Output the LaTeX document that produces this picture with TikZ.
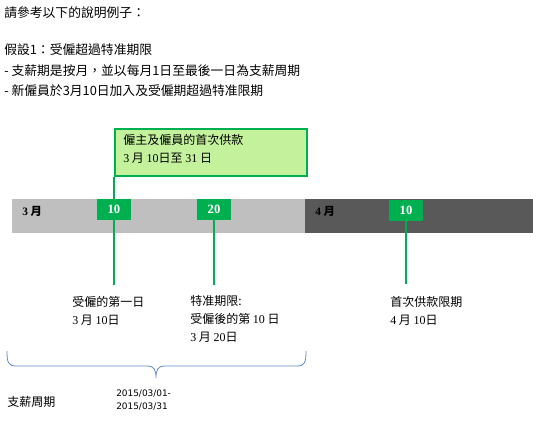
\documentclass[tikz,border=0pt]{standalone}
\usepackage{fontspec}
\setmainfont{Noto Sans CJK TC}
\newfontfamily\lserif{Liberation Serif}
\newfontfamily\lsans{DejaVu Sans}
\definecolor{grn}{HTML}{00B050}
\definecolor{lgrn}{HTML}{C4F29C}
\definecolor{lgray}{HTML}{BFBFBF}
\definecolor{dgray}{HTML}{595959}
\definecolor{brc}{HTML}{5B8BC7}
\begin{document}
\begin{tikzpicture}[x=0.75pt,y=-0.75pt,
  txt/.style={anchor=west,inner sep=0pt,font=\fontsize{9.6}{11}\selectfont,align=left},
  lbl/.style={anchor=north west,inner sep=0pt,font=\fontsize{9}{13.5}\selectfont,align=left},
  sq/.style={fill=grn,draw=none,minimum width=25.5pt,minimum height=15.75pt,inner sep=0pt,text=white,font=\lserif\bfseries\fontsize{9.5}{10}\selectfont},
  gline/.style={draw=grn,line width=1.5pt},
  month/.style={anchor=west,inner sep=0pt,font=\bfseries\fontsize{8.5}{10}\selectfont}]
\useasboundingbox (0,0) rectangle (533,421);
% header text
\node[txt] (t1) at (4,13) {請參考以下的說明例子：};
\node[txt] (t2) at (4,50) {假設1：受僱超過特准期限};
\node[txt] (t3) at (4,71) {- 支薪期是按月，並以每月1日至最後一日為支薪周期};
\node[txt] (t4) at (4,91) {- 新僱員於3月10日加入及受僱期超過特准限期};
% bars
\fill[lgray] (12,199) rectangle (305,233);
\fill[dgray] (305,199) rectangle (533,233);
\node[month] (m3) at (22,211) {{\lserif\bfseries 3} 月};
\node[month] (m4) at (315,211) {{\lserif\bfseries 4} 月};
% box
\node[draw=grn,fill=lgrn,line width=1.5pt,minimum width=144pt,minimum height=35.25pt,inner sep=0pt,anchor=north west] (box) at (114,128) {};
\node[lbl] (bt) at (123,134) {僱主及僱員的首次供款\\{\lserif 3} 月 {\lserif 10}日至 {\lserif 31} 日};
% squares
\node[sq] (sq1) at (114,209.5) {10};
\node[sq] (sq2) at (214,209.5) {20};
\node[sq] (sq3) at (406,210.5) {10};
\coordinate (e1) at (114,285);
\coordinate (e2) at (214,285);
\coordinate (e3) at (406,284);
\draw[gline] (box.south west) -- (sq1.north);
\draw[gline] (sq1.south) -- (e1);
\draw[gline] (sq2.south) -- (e2);
\draw[gline] (sq3.south) -- (e3);
% labels below
\node[lbl] (l1) at (72,296) {受僱的第一日\\{\lserif 3} 月 {\lserif 10}日};
\node[lbl] (l2) at (190,295) {特准期限:\\受僱後的第 {\lserif 10} 日\\{\lserif 3} 月 {\lserif 20}日};
\node[lbl] (l3) at (390,296) {首次供款限期\\{\lserif 4} 月 {\lserif 10}日};
% brace
\draw[brc,line width=0.6pt] (7,351) .. controls (7,362) and (8,366) .. (16,366) -- (148,366)
  .. controls (154,366) and (156,370) .. (156,378)
  .. controls (156,370) and (158,366) .. (164,366) -- (297,366)
  .. controls (305,366) and (306,362) .. (306,351);
% bottom
\node[txt,font=\fontsize{9}{11}\selectfont] (pc) at (7,402) {支薪周期};
\node[anchor=north west,inner sep=0pt,font=\lsans\fontsize{6.7}{9.7}\selectfont,align=left] (dt) at (116,390) {2015/03/01-\\2015/03/31};
\end{tikzpicture}
\end{document}
